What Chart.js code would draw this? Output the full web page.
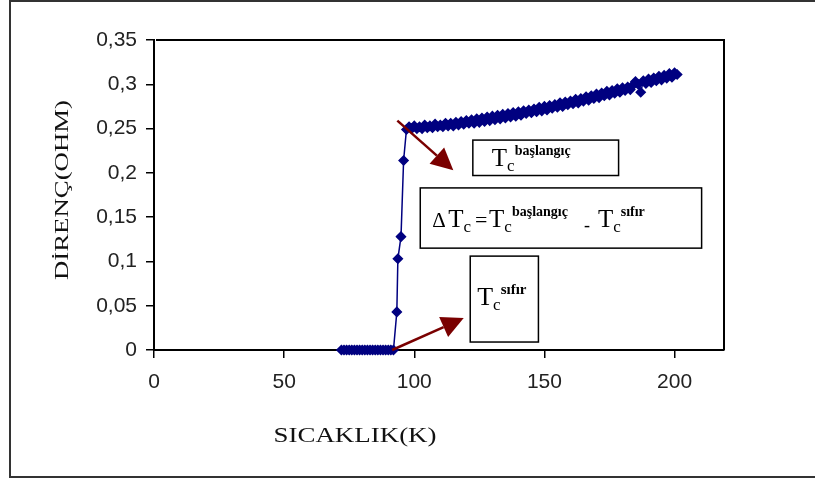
<!DOCTYPE html>
<html>
<head>
<meta charset="utf-8">
<script src="https://cdn.jsdelivr.net/npm/chart.js@4.4.1/dist/chart.umd.min.js"></script>
<style>
    html, body { margin: 0; padding: 0; background: #fff; }
    #wrap { width: 815px; height: 481px; position: relative; }
</style>
</head>
<body>
<div id="wrap"><canvas id="chart"></canvas></div>
<script>
// Superconducting region (R ~ 0)
const floorTemps = [72, 73, 74, 75, 76, 77, 78, 79, 80, 81, 82, 83, 84, 85, 86, 87, 88, 89, 90, 91, 92];
const floorRes   = [0, 0, 0, 0, 0, 0, 0, 0, 0, 0, 0, 0, 0, 0, 0, 0, 0, 0, 0, 0, 0];

// Transition
const jumpTemps = [93.3, 93.7, 94.9, 95.9];
const jumpRes   = [0.043, 0.103, 0.128, 0.214];

// Normal state
const normalTemps = [97, 98, 99, 100, 101, 102, 103, 104, 105, 106, 107, 108, 109, 110, 111, 112, 113, 114, 115, 116,
    117, 118, 119, 120, 121, 122, 123, 124, 125, 126, 127, 128, 129, 130, 131, 132, 133, 134, 135, 136,
    137, 138, 139, 140, 141, 142, 143, 144, 145, 146, 147, 148, 149, 150, 151, 152, 153, 154, 155, 156,
    157, 158, 159, 160, 161, 162, 163, 164, 165, 166, 167, 168, 169, 170, 171, 172, 173, 174, 175, 176,
    177, 178, 179, 180, 181, 182, 183, 184, 185, 186, 187, 188, 189, 190, 191, 192, 193, 194, 195, 196,
    197, 198, 199, 200, 201];
const normalRes = [0.249, 0.252, 0.250, 0.253, 0.250, 0.252, 0.250, 0.254, 0.251, 0.253, 0.251, 0.255, 0.252, 0.254, 0.252, 0.256, 0.253, 0.256, 0.253, 0.257,
    0.254, 0.258, 0.255, 0.259, 0.256, 0.260, 0.256, 0.261, 0.257, 0.262, 0.258, 0.263, 0.259, 0.264, 0.260, 0.265, 0.261, 0.266, 0.262, 0.267,
    0.263, 0.268, 0.264, 0.269, 0.265, 0.270, 0.267, 0.271, 0.268, 0.272, 0.269, 0.274, 0.270, 0.275, 0.271, 0.276, 0.273, 0.277, 0.274, 0.279,
    0.275, 0.280, 0.277, 0.281, 0.278, 0.283, 0.279, 0.284, 0.281, 0.286, 0.282, 0.287, 0.284, 0.289, 0.285, 0.290, 0.287, 0.292, 0.288, 0.293,
    0.290, 0.295, 0.291, 0.296, 0.293, 0.297, 0.294, 0.299, 0.303, 0.300, 0.291, 0.304, 0.301, 0.306, 0.302, 0.307, 0.304, 0.309, 0.305, 0.310,
    0.307, 0.312, 0.308, 0.313, 0.311];

const xTicks = [0, 50, 100, 150, 200];
const yTicks = [0, 0.05, 0.1, 0.15, 0.2, 0.25, 0.3, 0.35];

const temps = floorTemps.concat(jumpTemps, normalTemps);
const res = floorRes.concat(jumpRes, normalRes);
const points = temps.map((t, i) => ({ x: t, y: res[i] }));

const NAVY = '#000080';
const DARKRED = '#7a0000';
const SERIF = '"Liberation Serif", "Times New Roman", serif';
const SANS = '"Liberation Sans", Arial, sans-serif';

function arrow(ctx, x1, y1, x2, y2) {
    const ang = Math.atan2(y2 - y1, x2 - x1), len = 22, w = 11;
    const bx = x2 - len * Math.cos(ang), by = y2 - len * Math.sin(ang);
    ctx.beginPath(); ctx.moveTo(x1, y1); ctx.lineTo(bx, by); ctx.stroke();
    ctx.beginPath();
    ctx.moveTo(x2, y2);
    ctx.lineTo(bx + w * Math.sin(ang), by - w * Math.cos(ang));
    ctx.lineTo(bx - w * Math.sin(ang), by + w * Math.cos(ang));
    ctx.closePath(); ctx.fill();
}

// T with subscript c and a squeezed superscript, returns end x
function drawTc(ctx, x, y, size, sup, supWidth) {
    ctx.font = size + 'px ' + SERIF;
    ctx.fillText('T', x, y);
    const tw = ctx.measureText('T').width;
    ctx.font = Math.round(size * 0.66) + 'px ' + SERIF;
    ctx.fillText('c', x + tw, y + 5);
    const cw = ctx.measureText('c').width;
    ctx.font = 'bold ' + Math.round(size * 0.58) + 'px ' + SERIF;
    ctx.fillText(sup, x + tw + cw, y - 11, supWidth);
    return x + tw + cw + supWidth;
}

function stretchText(ctx, text, cx, cy, font, width, rot) {
    ctx.save();
    ctx.font = font;
    ctx.translate(cx, cy);
    if (rot) ctx.rotate(rot);
    const w = ctx.measureText(text).width;
    ctx.scale(width / w, 1);
    ctx.textAlign = 'center';
    ctx.textBaseline = 'middle';
    ctx.fillText(text, 0, 0);
    ctx.restore();
}

const annotate = {
    id: 'annotate',
    afterDraw(chart) {
        const ctx = chart.ctx, a = chart.chartArea;
        const px = v => chart.scales.x.getPixelForValue(v);
        const py = v => chart.scales.y.getPixelForValue(v);
        ctx.save();

        // outer frame
        ctx.strokeStyle = '#333';
        ctx.lineWidth = 2;
        ctx.beginPath();
        ctx.moveTo(815, 1); ctx.lineTo(10, 1); ctx.lineTo(10, 477); ctx.lineTo(815, 477);
        ctx.stroke();

        // top + right border of plot area
        ctx.strokeStyle = '#000';
        ctx.beginPath();
        ctx.moveTo(a.left + 2, a.top); ctx.lineTo(a.right, a.top); ctx.lineTo(a.right, a.bottom);
        ctx.stroke();

        // arrows
        ctx.strokeStyle = DARKRED;
        ctx.fillStyle = DARKRED;
        ctx.lineWidth = 2.5;
        arrow(ctx, px(93.5), py(0.259), px(115), py(0.203));
        arrow(ctx, px(91.5), py(0), px(119), py(0.036));

        // text boxes
        ctx.strokeStyle = '#000';
        ctx.lineWidth = 1.5;
        ctx.fillStyle = '#000';
        ctx.textAlign = 'left';
        ctx.textBaseline = 'alphabetic';

        let bx = px(122.5), by = py(0.237);
        ctx.strokeRect(bx, by, px(178.5) - bx, py(0.197) - by);
        drawTc(ctx, bx + 19, by + 26, 25, 'başlangıç', 68);

        bx = px(102.3); by = py(0.183);
        ctx.strokeRect(bx, by, px(210.4) - bx, py(0.115) - by);
        ctx.font = '21px ' + SERIF;
        ctx.fillText('Δ', bx + 12, by + 39);
        let x = drawTc(ctx, bx + 28, by + 39, 25, '', 0);
        ctx.font = '22px ' + SERIF;
        ctx.fillText('=', x + 4, by + 39);
        x = drawTc(ctx, x + 18, by + 39, 25, 'başlangıç', 70);
        ctx.font = '18px ' + SERIF;
        ctx.fillText('-', x + 2, by + 43);
        drawTc(ctx, x + 16, by + 39, 25, 'sıfır', 33);

        bx = px(121.5); by = py(0.106);
        ctx.strokeRect(bx, by, px(147.7) - bx, py(0.009) - by);
        drawTc(ctx, bx + 7, by + 49, 26, 'sıfır', 32);

        // axis titles
        ctx.fillStyle = '#111';
        stretchText(ctx, 'SICAKLIK(K)', 355, 436, '22px ' + SERIF, 163, 0);
        stretchText(ctx, 'DİRENÇ(OHM)', 63, 190, '19px ' + SERIF, 180, -Math.PI / 2);

        ctx.restore();
    }
};

new Chart(document.getElementById('chart'), {
    type: 'scatter',
    data: {
        datasets: [{
            data: points,
            showLine: true,
            clip: false,
            borderColor: NAVY,
            backgroundColor: NAVY,
            borderWidth: 1.5,
            pointStyle: 'rectRot',
            pointRadius: 4.5,
            pointBorderWidth: 1.5
        }]
    },
    options: {
        responsive: true,
        maintainAspectRatio: false,
        animation: false,
        layout: { padding: { left: 0, top: 40, right: 91, bottom: 0 } },
        plugins: { legend: { display: false }, tooltip: { enabled: false } },
        scales: {
            x: {
                type: 'linear',
                min: 0,
                max: 219,
                afterFit: s => { s.height = 131; },
                afterBuildTicks: s => { s.ticks = xTicks.map(v => ({ value: v })); },
                ticks: { color: '#222', font: { family: SANS, size: 21 }, padding: 12 },
                grid: { drawOnChartArea: false, color: '#000', tickLength: 8, lineWidth: 1.5 },
                border: { color: '#000', width: 2 }
            },
            y: {
                min: 0,
                max: 0.35,
                afterFit: s => { s.width = 154; },
                afterBuildTicks: s => { s.ticks = yTicks.map(v => ({ value: v })); },
                ticks: {
                    color: '#222',
                    font: { family: SANS, size: 21 },
                    padding: 9,
                    callback: v => v === 0 ? '0' : String(+v.toFixed(2)).replace('.', ',')
                },
                grid: { drawOnChartArea: false, color: '#000', tickLength: 8, lineWidth: 1.5 },
                border: { color: '#000', width: 2 }
            }
        }
    },
    plugins: [annotate]
});
</script>
</body>
</html>
